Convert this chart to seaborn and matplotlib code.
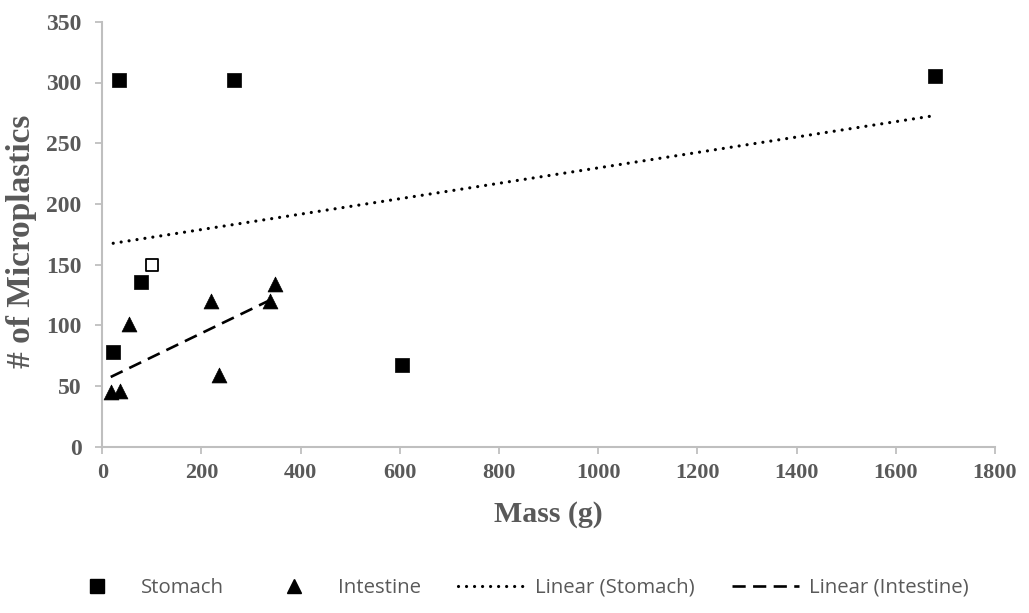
import matplotlib.pyplot as plt
import numpy as np
import pandas as pd
import seaborn as sns
from matplotlib.lines import Line2D

# values
stomach_mass = [34, 265, 79, 22, 604, 1680, 100]
stomach_count = [302, 302, 136, 78, 67, 305, 150]
stomach_hollow = [False, False, False, False, False, False, True]

intestine_mass = [17, 36, 54, 220, 235, 339, 349]
intestine_count = [45, 46, 101, 120, 59, 120, 134]

x_ticks = [0, 200, 400, 600, 800, 1000, 1200, 1400, 1600, 1800]
y_ticks = [0, 50, 100, 150, 200, 250, 300, 350]

grey = "#595959"
axis_grey = "#BFBFBF"

stomach = pd.DataFrame({"Mass": stomach_mass, "Count": stomach_count, "Hollow": stomach_hollow})
intestine = pd.DataFrame({"Mass": intestine_mass, "Count": intestine_count})

sns.set_theme(style="white")
plt.rcParams["font.family"] = ["Liberation Serif", "DejaVu Serif"]
plt.rcParams["font.weight"] = "bold"

fig = plt.figure(figsize=(10.29, 6.13), dpi=100)
ax = fig.add_axes([102.3 / 1029, 1 - 446.7 / 613, 892.7 / 1029, 424.9 / 613])

# trend lines (least squares over each series, drawn across the data range)
sns.regplot(data=stomach, x="Mass", y="Count", ax=ax, scatter=False, ci=None, truncate=True,
            line_kws=dict(color="black", lw=2.3, ls=(0, (0.01, 2.5)), dash_capstyle="round"))
sns.regplot(data=intestine, x="Mass", y="Count", ax=ax, scatter=False, ci=None, truncate=True,
            line_kws=dict(color="black", lw=1.9, ls=(0, (5.0, 2.8)), dash_capstyle="butt"))

sns.scatterplot(data=stomach[~stomach["Hollow"]], x="Mass", y="Count", ax=ax,
                marker="s", s=100, color="black", edgecolor="black", linewidth=0.5, zorder=3)
sns.scatterplot(data=stomach[stomach["Hollow"]], x="Mass", y="Count", ax=ax,
                marker="s", s=85, facecolor="white", edgecolor="black", linewidth=1.3, zorder=3)
sns.scatterplot(data=intestine, x="Mass", y="Count", ax=ax,
                marker="^", s=115, color="black", edgecolor="black", linewidth=0.5, zorder=3)

ax.set_xlim(0, 1800)
ax.set_ylim(0, 350)
ax.set_xticks(x_ticks)
ax.set_yticks(y_ticks)
ax.grid(False)

for side in ["top", "right"]:
    ax.spines[side].set_visible(False)
for side in ["left", "bottom"]:
    ax.spines[side].set_color(axis_grey)
    ax.spines[side].set_linewidth(1.5)

ax.tick_params(axis="both", direction="out", length=5, width=1.3, color=axis_grey,
               labelcolor=grey)
ax.tick_params(axis="x", pad=7, bottom=True, labelsize=16)
ax.tick_params(axis="y", pad=10, left=True, labelsize=17)

ax.set_xlabel("Mass (g)", fontsize=21.5, fontweight="bold", color=grey)
ax.set_ylabel("# of Microplastics", fontsize=24, fontweight="bold", color=grey)
ax.xaxis.set_label_coords(0.5, (446.7 - 514) / 424.9)
ax.xaxis.label.set_va("center")
ax.yaxis.set_label_coords((22 - 102.3) / 892.7, (446.7 - 241) / 424.9)
ax.yaxis.label.set_va("center")

handles = [
    Line2D([], [], marker="s", ls="none", color="black", markersize=9.5),
    Line2D([], [], marker="^", ls="none", color="black", markersize=9.5),
    Line2D([], [], color="black", lw=2.3, ls=(0, (0.01, 2.5)), dash_capstyle="round"),
    Line2D([], [], color="black", lw=1.9, ls=(0, (5.0, 2.8))),
]
labels = ["Stomach", "Intestine", "Linear (Stomach)", "Linear (Intestine)"]
leg = fig.legend(handles, labels, loc="center", bbox_to_anchor=(516 / 1029, 1 - 588 / 613),
                 ncol=4, frameon=False, handlelength=3.3, handletextpad=0.5, columnspacing=1.8,
                 prop={"family": ["Open Sans", "DejaVu Sans"], "size": 14.7, "weight": "normal"})
for t in leg.get_texts():
    t.set_color(grey)

fig.savefig("out.png", dpi=100)
